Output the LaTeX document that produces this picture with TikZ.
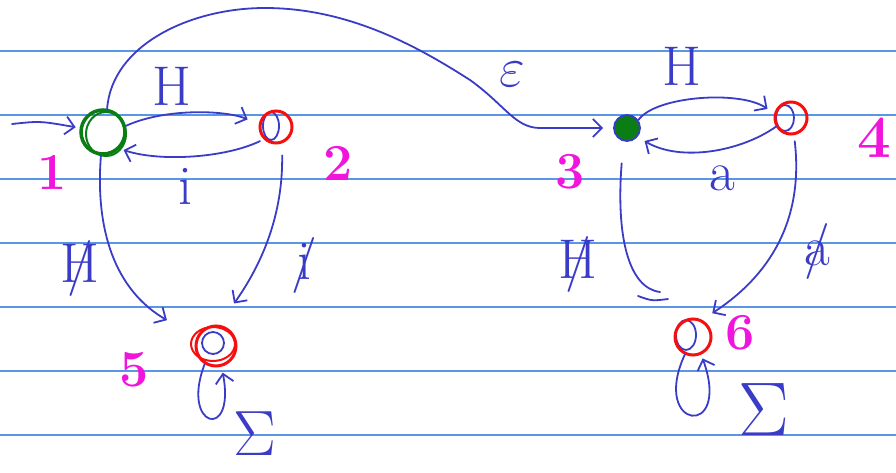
\RequirePackage{fix-cm}
\documentclass[tikz,border=0pt]{standalone}
\usepackage{tikz}
\usetikzlibrary{arrows.meta}
\definecolor{ink}{RGB}{58,60,198}
\definecolor{rule}{RGB}{90,150,230}
\definecolor{pen}{RGB}{240,20,220}
\definecolor{acc}{RGB}{10,125,20}
\definecolor{fin}{RGB}{245,15,15}
\newcommand{\nott}[1]{\ooalign{#1\cr\hidewidth/\hidewidth\cr}}

\tikzset{
  ruled/.style={rule, line width=1.3pt},
  state/.style={circle, draw, inner sep=0pt},
  startstate/.style={state, acc, line width=3.5pt},
  finalstate/.style={state, fin, line width=3pt},
  trans/.style={ink, line width=1.8pt, line cap=round,
    -{Straight Barb[length=9pt,width=18pt]}, shorten >=4pt},
  stroke/.style={ink, line width=1.8pt, line cap=round},
  sym/.style={ink, font=\fontsize{56}{56}\selectfont},
  num/.style={pen, font=\fontsize{52}{52}\selectfont\bfseries},
}

\begin{document}
\begin{tikzpicture}[x=1pt, y=-1pt]
  \useasboundingbox (0,0) rectangle (896,473);
  % Ruled paper
  \foreach \ly in {51,115,...,435}
    \draw[ruled] (0,\ly) -- (896,\ly);
  % Blue strokes inside the final states
  \draw[stroke] (271,126) ellipse[x radius=8, y radius=14];
  \draw[stroke] (785,118) ellipse[x radius=9, y radius=13];
  \draw[stroke] (213,343) ellipse[x radius=11, y radius=11];
  \draw[stroke] (686,335) ellipse[x radius=10, y radius=15];
  % States
  \node[startstate, minimum size=44pt] (q1) at (103,132) {};
  \draw[acc, line width=2pt] (106,134) ellipse[x radius=20, y radius=22];
  \node[finalstate, minimum size=32pt] (q2) at (276,127) {};
  \node[state, fill=acc, draw=ink, line width=1.8pt, minimum size=26pt] (q3) at (627,128) {};
  \node[finalstate, minimum size=32pt] (q4) at (791,118) {};
  \node[finalstate, minimum size=40pt] (q5) at (216,346) {};
  \draw[fin, line width=2pt] (213,344) ellipse[x radius=22, y radius=17];
  \node[finalstate, minimum size=36pt] (q6) at (693,337) {};
  % State numbers
  \node[num] (n1) at (52,172) {1};
  \node[num] (n2) at (338,163) {2};
  \node[num] (n3) at (570,172) {3};
  \node[num, font=\fontsize{60}{60}\selectfont\bfseries] (n4) at (874,138) {4};
  \node[num] (n5) at (134,370) {5};
  \node[num] (n6) at (740,333) {6};
  % Initial arrow
  \coordinate (init) at (12,124);
  \draw[trans] (init) .. controls (40,121) .. (q1);
  % Transitions between 1 and 2
  \draw[trans, shorten >=12pt] (q1.15) .. controls (165,108) and (225,110) .. (q2.170);
  \node[sym] (h12) at (172,86) {H};
  \draw[trans, shorten <=4pt] (q2.-135) .. controls (225,158) and (160,162) .. (q1.-45);
  \node[sym] (i21) at (185,186) {i};
  % Epsilon move from 1 to 3
  \draw[trans, shorten >=10pt] (q1.80) .. controls (112,45) and (190,8) .. (265,8)
    .. controls (350,8) and (420,48) .. (470,80)
    .. controls (505,105) and (515,128) .. (540,128) -- (q3.west);
  \node[sym] (eps) at (512,74) {$\varepsilon$};
  % Moves into 5
  \draw[trans, shorten >=34pt] (q1.-95) .. controls (95,230) and (115,290) .. (q5.156);
  \node[sym] (nh1) at (80,270) {\nott{H}};
  \draw[trans, shorten <=12pt, shorten >=26pt] (q2.-70) .. controls (283,215) and (262,264) .. (q5.82);
  \node[sym] (ni2) at (304,268) {\nott{i}};
  \draw[trans, shorten >=6pt] (q5.-122) .. controls (180,428) and (236,442) .. (q5.-75);
  \node[sym, font=\fontsize{64}{64}\selectfont] (sig5) at (255,434) {$\Sigma$};
  % Transitions between 3 and 4
  \draw[trans, shorten >=8pt] (q3.35) .. controls (655,96) and (740,90) .. (q4.165);
  \node[sym] (h34) at (682,66) {H};
  \draw[trans, shorten >=8pt] (q4.-150) .. controls (740,152) and (680,162) .. (q3.-40);
  \node[sym] (a43) at (722,178) {a};
  % Moves into 6
  \coordinate (d3) at (660,292);
  \draw[stroke, shorten <=22pt] (q3.-105) .. controls (616,235) and (628,288) .. (d3);
  \draw[stroke] (638,296) .. controls (652,301) .. (668,299);
  \node[sym] (nh3) at (578,266) {\nott{H}};
  \draw[trans, shorten <=6pt, shorten >=12pt] (q4.-80) .. controls (805,230) and (760,282) .. (q6.62);
  \node[sym] (na4) at (817,260) {\nott{a}};
  \draw[trans, shorten >=4pt] (q6.-115) .. controls (650,430) and (732,440) .. (q6.-65);
  \node[sym, font=\fontsize{76}{76}\selectfont] (sig6) at (764,410) {$\Sigma$};
\end{tikzpicture}
\end{document}
